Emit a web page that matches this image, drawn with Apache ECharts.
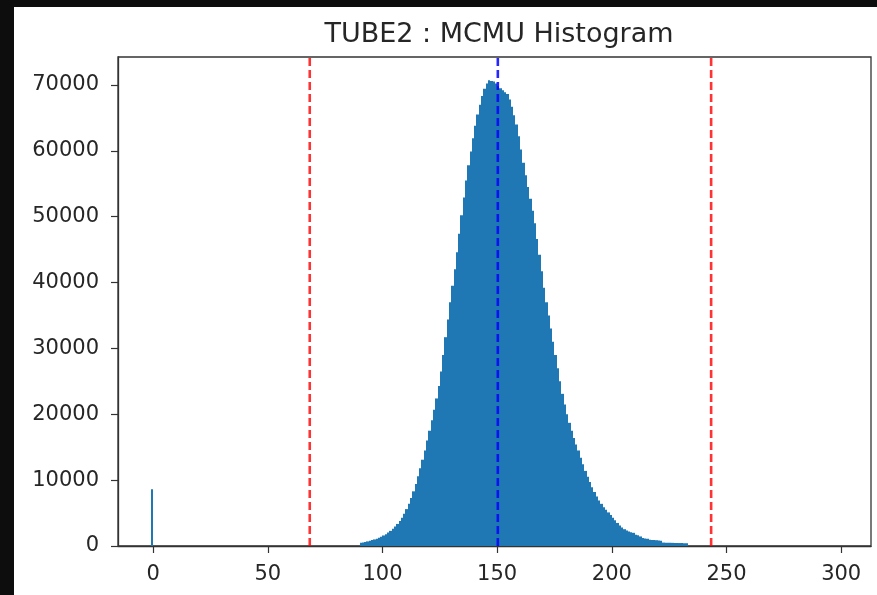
<html>
<head>
<meta charset="utf-8">
<title>ECharts</title>
<style>
html, body { margin: 0; padding: 0; background: #0d0d0d; }
#main { position: absolute; left: 14px; top: 7px; width: 863px; height: 588px; background: #ffffff; }
</style>
</head>
<body>
<div id="main"></div>
<script src="https://cdn.jsdelivr.net/npm/echarts@6/dist/echarts.min.js"></script>
<script>
// bin start positions (width 1) and counts
var binStart = [-1,
  90, 91, 92, 93, 94, 95, 96, 97, 98, 99,
  100, 101, 102, 103, 104, 105, 106, 107, 108, 109,
  110, 111, 112, 113, 114, 115, 116, 117, 118, 119,
  120, 121, 122, 123, 124, 125, 126, 127, 128, 129,
  130, 131, 132, 133, 134, 135, 136, 137, 138, 139,
  140, 141, 142, 143, 144, 145, 146, 147, 148, 149,
  150, 151, 152, 153, 154, 155, 156, 157, 158, 159,
  160, 161, 162, 163, 164, 165, 166, 167, 168, 169,
  170, 171, 172, 173, 174, 175, 176, 177, 178, 179,
  180, 181, 182, 183, 184, 185, 186, 187, 188, 189,
  190, 191, 192, 193, 194, 195, 196, 197, 198, 199,
  200, 201, 202, 203, 204, 205, 206, 207, 208, 209,
  210, 211, 212, 213, 214, 215, 216, 217, 218, 219,
  220, 221, 222, 223, 224, 225, 226, 227, 228, 229,
  230, 231, 232];
var counts = [8600,
  500, 550, 600, 700, 800, 900, 1000, 1100, 1250, 1400,
  1600, 1800, 2050, 2300, 2600, 2950, 3350, 3800, 4300, 4900,
  5600, 6400, 7300, 8300, 9400, 10600, 11800, 13100, 14500, 16000,
  17500, 19100, 20700, 22400, 24300, 26500, 29000, 31700, 34400, 37000,
  39500, 42000, 44600, 47400, 50200, 52900, 55500, 57800, 59900, 61900,
  63800, 65500, 67000, 68300, 69400, 70200, 70700, 70600, 70500, 70200,
  69800, 69500, 69200, 68900, 68600, 67800, 66700, 65400, 64000, 62200,
  60200, 58200, 56300, 54500, 52700, 50900, 49000, 46600, 44200, 41700,
  39200, 37000, 35000, 33000, 31000, 29000, 27000, 25000, 23100, 21500,
  20000, 18700, 17500, 16400, 15400, 14500, 13400, 12400, 11400, 10500,
  9700, 8900, 8200, 7500, 6900, 6400, 5900, 5500, 5100, 4700,
  4300, 3900, 3500, 3100, 2800, 2550, 2350, 2200, 2100, 2000,
  1700, 1650, 1450, 1200, 1150, 1100, 950, 900, 900, 880,
  850, 800, 520, 500, 500, 490, 480, 470, 460, 450,
  440, 430, 420];
var binWidth = 1;

var redLines = [68.3, 243.3];
var blueLine = 150.3;

var xTicks = [0, 50, 100, 150, 200, 250, 300];
var yTicks = [0, 10000, 20000, 30000, 40000, 50000, 60000, 70000];

var yMax = Math.max.apply(null, counts) * 1.05;

var chart = echarts.init(document.getElementById('main'));

var histData = [];
for (var i = 0; i < binStart.length; i++) {
  histData.push([binStart[i], binStart[i] + binWidth, counts[i]]);
}

function vline(x, color) {
  return {
    type: 'line',
    data: [[x, 0], [x, yMax]],
    symbol: 'none',
    silent: true,
    z: 5,
    lineStyle: { color: color, width: 2.6, type: [8, 4] }
  };
}

var option = {
  animation: false,
  title: {
    text: 'TUBE2 : MCMU Histogram',
    left: 480,
    top: 9,
    textAlign: 'center',
    textStyle: { fontFamily: 'DejaVu Sans', fontSize: 27, fontWeight: 'normal', color: '#262626' }
  },
  grid: {
    left: 104,
    right: 6,
    top: 50,
    bottom: 49,
    show: true,
    borderColor: '#333',
    borderWidth: 1.3
  },
  xAxis: {
    type: 'value',
    min: -15.3,
    max: 313,
    splitLine: { show: false },
    axisLine: { show: true, onZero: false, lineStyle: { color: '#333', width: 1.3 } },
    axisTick: { show: true, customValues: xTicks, length: 7, lineStyle: { color: '#333', width: 1.2 } },
    axisLabel: {
      customValues: xTicks,
      margin: 18,
      fontFamily: 'DejaVu Sans',
      fontSize: 21,
      color: '#262626'
    }
  },
  yAxis: {
    type: 'value',
    min: 0,
    max: yMax,
    splitLine: { show: false },
    axisLine: { show: true, onZero: false, lineStyle: { color: '#333', width: 1.3 } },
    axisTick: { show: true, customValues: yTicks, length: 7, lineStyle: { color: '#333', width: 1.2 } },
    axisLabel: {
      customValues: yTicks,
      margin: 19,
      fontFamily: 'DejaVu Sans',
      fontSize: 21,
      color: '#262626',
      formatter: function (v) { return String(v); }
    }
  },
  series: [
    {
      type: 'custom',
      data: histData,
      encode: { x: [0, 1], y: 2 },
      renderItem: function (params, api) {
        var p0 = api.coord([api.value(0), api.value(2)]);
        var p1 = api.coord([api.value(1), 0]);
        // snap bar edges to whole pixels so neighbouring bins meet without seams
        var x0 = Math.round(p0[0]);
        var x1 = Math.round(p1[0]);
        return {
          type: 'rect',
          shape: { x: x0, y: p0[1], width: Math.max(x1 - x0, 1), height: p1[1] - p0[1] },
          style: { fill: '#1f77b4' }
        };
      }
    },
    vline(redLines[0], 'rgba(255,0,0,0.8)'),
    vline(redLines[1], 'rgba(255,0,0,0.8)'),
    vline(blueLine, 'rgba(0,0,255,0.85)')
  ]
};

chart.setOption(option);
</script>
</body>
</html>
